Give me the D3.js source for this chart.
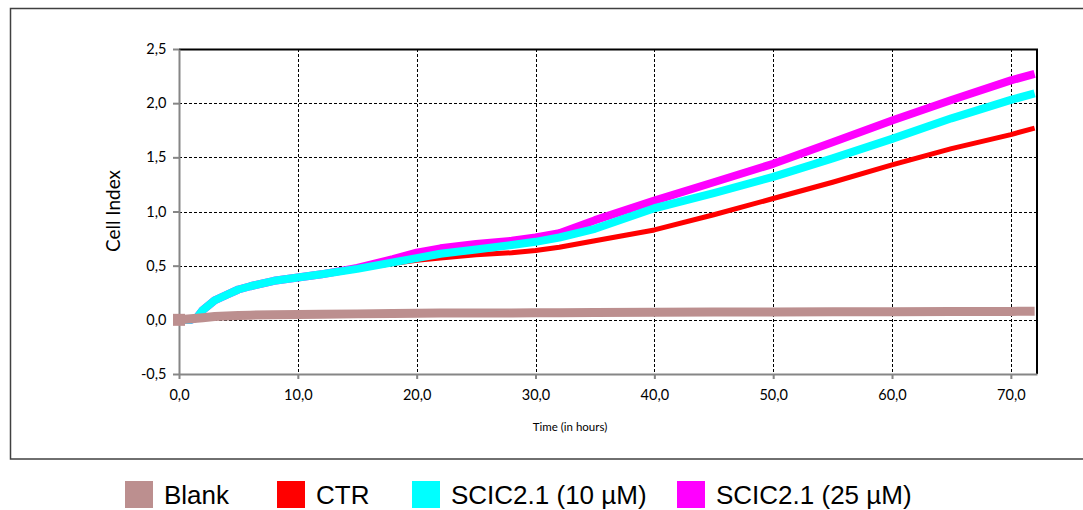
<!DOCTYPE html>
<html>
<head>
<meta charset="utf-8">
<script src="https://cdn.jsdelivr.net/npm/d3@7"></script>
<style>
  body { margin: 0; background: #fff; }
  svg { display: block; }
  .tick text { font-family: Lato, "Open Sans", sans-serif; fill: #000; }
</style>
</head>
<body>
<div id="chart"></div>
<script>
// time in hours
var hours = [0, 1, 1.5, 2, 3, 4, 5, 6, 8, 10, 12, 15, 18, 20, 22, 25, 28, 30, 32, 35, 40, 45, 50, 55, 60, 65, 70, 72];

var blank  = [0, 0.01, 0.015, 0.02, 0.03, 0.035, 0.04, 0.043, 0.047, 0.05, 0.052, 0.055, 0.058, 0.06, 0.062, 0.063, 0.064, 0.065, 0.066, 0.068, 0.07, 0.072, 0.073, 0.074, 0.075, 0.076, 0.078, 0.08];
var ctr    = [0, 0, 0.02, 0.09, 0.18, 0.23, 0.28, 0.31, 0.36, 0.39, 0.42, 0.47, 0.52, 0.55, 0.57, 0.60, 0.62, 0.64, 0.67, 0.73, 0.83, 0.97, 1.12, 1.27, 1.43, 1.58, 1.71, 1.77];
var scic10 = [0, 0, 0.02, 0.09, 0.18, 0.23, 0.28, 0.31, 0.36, 0.39, 0.42, 0.47, 0.53, 0.57, 0.61, 0.65, 0.69, 0.72, 0.76, 0.84, 1.03, 1.17, 1.32, 1.49, 1.67, 1.86, 2.03, 2.09];
var scic25 = [0, 0, 0.02, 0.09, 0.18, 0.23, 0.28, 0.31, 0.36, 0.39, 0.42, 0.48, 0.56, 0.62, 0.66, 0.70, 0.73, 0.76, 0.80, 0.92, 1.10, 1.27, 1.44, 1.64, 1.84, 2.03, 2.21, 2.27];

var seriesNames = ["Blank", "CTR", "SCIC2.1 (10 µM)", "SCIC2.1 (25 µM)"];
var xTicks = [0, 10, 20, 30, 40, 50, 60, 70];
var yTicks = [-0.5, 0, 0.5, 1.0, 1.5, 2.0, 2.5];

var COLORS = {"Blank": "#bc8f8f", "CTR": "#ff0000", "SCIC2.1 (10 µM)": "#00ffff", "SCIC2.1 (25 µM)": "#ff00ff"};
var WIDTHS = {"Blank": 9, "CTR": 5, "SCIC2.1 (10 µM)": 8, "SCIC2.1 (25 µM)": 8};

var aData = [
  {key: "Blank", vals: blank},
  {key: "CTR", vals: ctr},
  {key: "SCIC2.1 (10 µM)", vals: scic10},
  {key: "SCIC2.1 (25 µM)", vals: scic25}
].map(function(s) {
  return {key: s.key, data: hours.map(function(h, i) { return {h: h, v: s.vals[i]}; })};
});

var W = 1083, H = 510;
var MARGIN = {top: 49, right: 46, bottom: 136, left: 179};
var WIDTH = W - MARGIN.left - MARGIN.right,
    HEIGHT = H - MARGIN.top - MARGIN.bottom;

var svg = d3.select("#chart").append("svg").attr("width", W).attr("height", H);

// outer frame
svg.append("rect")
  .attr("x", 10.5).attr("y", 8.5).attr("width", 1090).attr("height", 450.5)
  .attr("fill", "none").attr("stroke", "#404040").attr("stroke-width", 1.5);

var g = svg.append("g").attr("transform", "translate(" + MARGIN.left + "," + MARGIN.top + ")");

var x = d3.scaleLinear().domain([0, 72.2]).range([0, WIDTH]);
var y = d3.scaleLinear().domain([-0.5, 2.5]).range([HEIGHT, 0]);

var fmt = function(d) { return d3.format(".1f")(d).replace(".", ",").replace("−", "-"); };

// grid
g.append("g").selectAll("line").data(xTicks.slice(1))
  .enter().append("line")
  .attr("x1", function(d) { return Math.round(x(d)) + 0.5; })
  .attr("x2", function(d) { return Math.round(x(d)) + 0.5; })
  .attr("y1", 0).attr("y2", HEIGHT)
  .attr("stroke", "#000").attr("stroke-dasharray", "3,2");

g.append("g").selectAll("line").data(yTicks.slice(1, -1))
  .enter().append("line")
  .attr("y1", function(d) { return Math.round(y(d)) + 0.5; })
  .attr("y2", function(d) { return Math.round(y(d)) + 0.5; })
  .attr("x1", 0).attr("x2", WIDTH)
  .attr("stroke", "#000").attr("stroke-dasharray", "3,2");

// top and right border
g.append("path")
  .attr("d", "M0,0.5H" + WIDTH + "V" + HEIGHT)
  .attr("fill", "none").attr("stroke", "#000").attr("stroke-width", 2);

// axes
var xAxis = d3.axisBottom(x).tickValues(xTicks).tickFormat(fmt).tickSize(5).tickSizeOuter(0);
var yAxis = d3.axisLeft(y).tickValues(yTicks).tickFormat(fmt).tickSize(6).tickSizeOuter(0);

var gx = g.append("g").attr("transform", "translate(0," + HEIGHT + ")").call(xAxis);
gx.selectAll("text").attr("font-size", 14.5).attr("dy", "1.25em");
var gy = g.append("g").call(yAxis);
gy.selectAll("text").attr("font-size", 14.5).attr("dx", "-0.25em");
g.selectAll(".domain, .tick line").attr("stroke", "#868686").attr("stroke-width", 2);

// lines
var line = d3.line()
  .x(function(d) { return x(d.h); })
  .y(function(d) { return y(d.v); });

var drawOrder = ["CTR", "SCIC2.1 (25 µM)", "SCIC2.1 (10 µM)", "Blank"];
g.append("g").selectAll("path")
  .data(drawOrder.map(function(k) { return aData.find(function(s) { return s.key === k; }); }))
  .enter().append("path")
  .attr("d", function(d) { return line(d.data); })
  .attr("fill", "none")
  .attr("stroke", function(d) { return COLORS[d.key]; })
  .attr("stroke-width", function(d) { return WIDTHS[d.key]; })
  .attr("stroke-linejoin", "round");

// start marker
g.append("rect")
  .attr("x", x(0) - 6).attr("y", y(0) - 6).attr("width", 12).attr("height", 12)
  .attr("fill", COLORS["Blank"]);

// axis titles
svg.append("text")
  .attr("transform", "translate(120,211) rotate(-90)")
  .attr("text-anchor", "middle")
  .attr("font-family", "Lato, 'Open Sans', sans-serif")
  .attr("font-size", 19)
  .text("Cell Index");

svg.append("text")
  .attr("x", 570).attr("y", 431)
  .attr("text-anchor", "middle")
  .attr("font-family", "Lato, 'Open Sans', sans-serif")
  .attr("font-size", 11.5)
  .text("Time (in hours)");

// legend
var legendX = [125, 277, 412, 677];
var legend = svg.append("g").selectAll("g").data(seriesNames)
  .enter().append("g")
  .attr("transform", function(d, i) { return "translate(" + legendX[i] + ",481)"; });
legend.append("rect")
  .attr("width", 28).attr("height", 27)
  .attr("fill", function(d) { return COLORS[d]; });
legend.append("text")
  .attr("x", 39).attr("y", 23)
  .attr("font-family", "'Liberation Sans', Arial, sans-serif")
  .attr("font-size", 26)
  .text(function(d) { return d; });
</script>
</body>
</html>
